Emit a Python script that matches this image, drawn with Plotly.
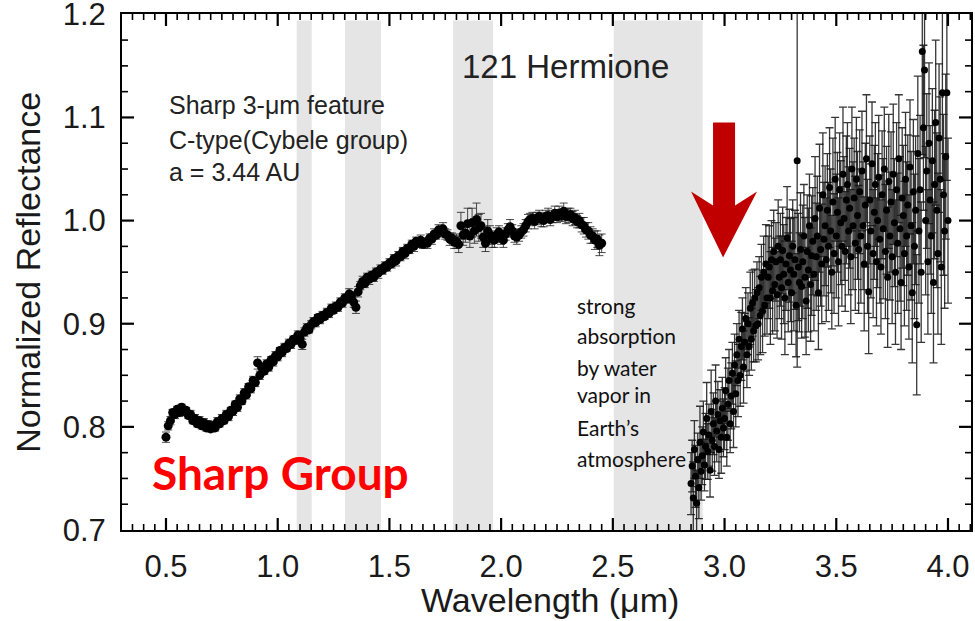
import plotly.graph_objects as go

# ---------------------------------------------------------------
# 121 Hermione reflectance spectrum (normalized)
# ---------------------------------------------------------------

# Visible / near-IR segment (0.50 - 2.45 um)
WAVE_VIS = [
    0.50, 0.51, 0.52, 0.53, 0.54, 0.55, 0.56, 0.57, 0.58, 0.59,
    0.60, 0.61, 0.62, 0.63, 0.64, 0.65, 0.66, 0.67, 0.68, 0.69,
    0.70, 0.71, 0.72, 0.73, 0.74, 0.75, 0.76, 0.77, 0.78, 0.79,
    0.80, 0.81, 0.82, 0.83, 0.84, 0.85, 0.86, 0.87, 0.88, 0.89,
    0.90, 0.91, 0.92, 0.93, 0.94, 0.95, 0.96, 0.97, 0.98, 0.99,
    1.00, 1.01, 1.02, 1.03, 1.04, 1.05, 1.06, 1.07, 1.08, 1.09,
    1.10, 1.11, 1.12, 1.13, 1.14, 1.15, 1.16, 1.17, 1.18, 1.19,
    1.20, 1.21, 1.22, 1.23, 1.24, 1.25, 1.26, 1.27, 1.28, 1.29,
    1.30, 1.31, 1.32, 1.33, 1.34, 1.35, 1.36, 1.37, 1.38, 1.39,
    1.40, 1.41, 1.42, 1.43, 1.44, 1.45, 1.46, 1.47, 1.48, 1.49,
    1.50, 1.51, 1.52, 1.53, 1.54, 1.55, 1.56, 1.57, 1.58, 1.59,
    1.60, 1.61, 1.62, 1.63, 1.64, 1.65, 1.66, 1.67, 1.68, 1.69,
    1.70, 1.71, 1.72, 1.73, 1.74, 1.75, 1.76, 1.77, 1.78, 1.79,
    1.80, 1.81, 1.82, 1.83, 1.84, 1.85, 1.86, 1.87, 1.88, 1.89,
    1.90, 1.91, 1.92, 1.93, 1.94, 1.95, 1.96, 1.97, 1.98, 1.99,
    2.00, 2.01, 2.02, 2.03, 2.04, 2.05, 2.06, 2.07, 2.08, 2.09,
    2.10, 2.11, 2.12, 2.13, 2.14, 2.15, 2.16, 2.17, 2.18, 2.19,
    2.20, 2.21, 2.22, 2.23, 2.24, 2.25, 2.26, 2.27, 2.28, 2.29,
    2.30, 2.31, 2.32, 2.33, 2.34, 2.35, 2.36, 2.37, 2.38, 2.39,
    2.40, 2.41, 2.42, 2.43, 2.44, 2.45,
]
REFL_VIS = [
    0.790, 0.801, 0.806, 0.814, 0.812, 0.817, 0.814, 0.819, 0.815, 0.816,
    0.811, 0.812, 0.806, 0.808, 0.803, 0.806, 0.801, 0.804, 0.799, 0.802,
    0.798, 0.801, 0.799, 0.805, 0.803, 0.808, 0.806, 0.812, 0.810, 0.816,
    0.815, 0.822, 0.819, 0.827, 0.825, 0.833, 0.831, 0.839, 0.837, 0.845,
    0.843, 0.862, 0.850, 0.857, 0.854, 0.861, 0.858, 0.865, 0.863, 0.869,
    0.868, 0.874, 0.872, 0.877, 0.876, 0.881, 0.880, 0.885, 0.884, 0.889,
    0.886, 0.880, 0.892, 0.896, 0.894, 0.899, 0.902, 0.901, 0.906, 0.904,
    0.908, 0.907, 0.911, 0.910, 0.915, 0.913, 0.917, 0.916, 0.921, 0.920,
    0.925, 0.924, 0.929, 0.927, 0.921, 0.916, 0.931, 0.937, 0.941, 0.939,
    0.945, 0.943, 0.947, 0.945, 0.950, 0.949, 0.953, 0.952, 0.956, 0.955,
    0.959, 0.958, 0.963, 0.961, 0.966, 0.965, 0.970, 0.968, 0.973, 0.972,
    0.977, 0.975, 0.980, 0.978, 0.981, 0.977, 0.979, 0.978, 0.983, 0.982,
    0.987, 0.986, 0.991, 0.989, 0.992, 0.987, 0.986, 0.982, 0.983, 0.979,
    0.980, 0.977, 0.995, 0.986, 0.988, 0.997, 0.985, 0.998, 0.990, 1.001,
    0.993, 0.995, 0.984, 0.978, 0.990, 0.986, 0.982, 0.981, 0.986, 0.989,
    0.983, 0.981, 0.987, 0.991, 0.994, 0.990, 0.985, 0.984, 0.986, 0.989,
    0.991, 0.995, 0.999, 1.001, 1.002, 0.999, 1.002, 1.004, 1.001, 1.000,
    1.004, 1.005, 1.001, 1.004, 1.007, 1.004, 1.007, 1.005, 1.009, 1.004,
    1.005, 1.006, 1.002, 1.003, 0.999, 1.000, 0.996, 0.995, 0.991, 0.990,
    0.986, 0.985, 0.981, 0.982, 0.976, 0.978,
]
ERR_VIS = [
    0.005, 0.004, 0.004, 0.003, 0.004, 0.003, 0.004, 0.003, 0.004, 0.003,
    0.003, 0.004, 0.003, 0.004, 0.003, 0.004, 0.003, 0.004, 0.003, 0.004,
    0.003, 0.004, 0.003, 0.004, 0.003, 0.004, 0.003, 0.004, 0.004, 0.003,
    0.004, 0.003, 0.004, 0.004, 0.003, 0.004, 0.004, 0.003, 0.004, 0.004,
    0.004, 0.006, 0.004, 0.004, 0.003, 0.004, 0.004, 0.003, 0.004, 0.004,
    0.004, 0.003, 0.004, 0.004, 0.003, 0.004, 0.004, 0.003, 0.004, 0.004,
    0.004, 0.005, 0.004, 0.004, 0.003, 0.004, 0.004, 0.004, 0.003, 0.004,
    0.004, 0.003, 0.004, 0.004, 0.004, 0.003, 0.004, 0.004, 0.004, 0.004,
    0.004, 0.004, 0.005, 0.004, 0.005, 0.006, 0.005, 0.004, 0.005, 0.004,
    0.004, 0.005, 0.004, 0.004, 0.004, 0.005, 0.004, 0.004, 0.004, 0.004,
    0.004, 0.004, 0.004, 0.005, 0.004, 0.004, 0.004, 0.005, 0.004, 0.004,
    0.004, 0.005, 0.004, 0.004, 0.005, 0.004, 0.004, 0.005, 0.004, 0.005,
    0.005, 0.004, 0.005, 0.005, 0.006, 0.005, 0.005, 0.006, 0.005, 0.006,
    0.007, 0.008, 0.013, 0.010, 0.009, 0.015, 0.011, 0.014, 0.012, 0.016,
    0.013, 0.012, 0.010, 0.008, 0.011, 0.009, 0.008, 0.007, 0.007, 0.006,
    0.006, 0.007, 0.006, 0.006, 0.007, 0.006, 0.006, 0.007, 0.006, 0.006,
    0.006, 0.006, 0.007, 0.006, 0.006, 0.007, 0.006, 0.006, 0.007, 0.006,
    0.006, 0.007, 0.006, 0.006, 0.007, 0.006, 0.007, 0.006, 0.008, 0.007,
    0.007, 0.006, 0.007, 0.007, 0.006, 0.007, 0.007, 0.008, 0.007, 0.008,
    0.008, 0.007, 0.009, 0.008, 0.010, 0.009,
]

# 3-um segment (2.85 - 4.00 um)
WAVE_3UM = [
    2.850, 2.855, 2.860, 2.865, 2.870, 2.875, 2.880, 2.885, 2.890, 2.895,
    2.900, 2.905, 2.910, 2.915, 2.920, 2.925, 2.930, 2.935, 2.940, 2.945,
    2.950, 2.955, 2.960, 2.965, 2.970, 2.975, 2.980, 2.985, 2.990, 2.995,
    3.000, 3.005, 3.010, 3.015, 3.020, 3.025, 3.030, 3.035, 3.040, 3.045,
    3.050, 3.055, 3.060, 3.065, 3.070, 3.075, 3.080, 3.085, 3.090, 3.095,
    3.100, 3.105, 3.110, 3.115, 3.120, 3.125, 3.130, 3.135, 3.140, 3.145,
    3.150, 3.155, 3.160, 3.165, 3.170, 3.175, 3.180, 3.185, 3.190, 3.195,
    3.200, 3.205, 3.210, 3.215, 3.220, 3.225, 3.230, 3.235, 3.240, 3.245,
    3.250, 3.255, 3.260, 3.265, 3.270, 3.275, 3.280, 3.285, 3.290, 3.295,
    3.300, 3.305, 3.310, 3.315, 3.320, 3.325, 3.330, 3.335, 3.340, 3.345,
    3.350, 3.355, 3.360, 3.365, 3.370, 3.375, 3.380, 3.385, 3.390, 3.395,
    3.400, 3.405, 3.410, 3.415, 3.420, 3.425, 3.430, 3.435, 3.440, 3.445,
    3.450, 3.455, 3.460, 3.465, 3.470, 3.475, 3.480, 3.485, 3.490, 3.495,
    3.500, 3.505, 3.510, 3.515, 3.520, 3.525, 3.530, 3.535, 3.540, 3.545,
    3.550, 3.555, 3.560, 3.565, 3.570, 3.575, 3.580, 3.585, 3.590, 3.595,
    3.600, 3.605, 3.610, 3.615, 3.620, 3.625, 3.630, 3.635, 3.640, 3.645,
    3.650, 3.655, 3.660, 3.665, 3.670, 3.675, 3.680, 3.685, 3.690, 3.695,
    3.700, 3.705, 3.710, 3.715, 3.720, 3.725, 3.730, 3.735, 3.740, 3.745,
    3.750, 3.755, 3.760, 3.765, 3.770, 3.775, 3.780, 3.785, 3.790, 3.795,
    3.800, 3.805, 3.810, 3.815, 3.820, 3.825, 3.830, 3.835, 3.840, 3.845,
    3.850, 3.855, 3.860, 3.865, 3.870, 3.875, 3.880, 3.885, 3.890, 3.895,
    3.900, 3.905, 3.910, 3.915, 3.920, 3.925, 3.930, 3.935, 3.940, 3.945,
    3.950, 3.955, 3.960, 3.965, 3.970, 3.975, 3.980, 3.985, 3.990, 3.995,
    4.000,
]
REFL_3UM = [
    0.745, 0.762, 0.731, 0.778, 0.752, 0.726, 0.768, 0.741, 0.785, 0.757,
    0.772, 0.795, 0.763, 0.781, 0.808, 0.776, 0.792, 0.758, 0.815, 0.787,
    0.803, 0.781, 0.825, 0.796, 0.812, 0.778, 0.806, 0.790, 0.818, 0.799,
    0.808, 0.835, 0.790, 0.822, 0.845, 0.803, 0.830, 0.852, 0.815, 0.860,
    0.832, 0.870, 0.845, 0.885, 0.850, 0.878, 0.895, 0.858, 0.882, 0.905,
    0.870, 0.900, 0.878, 0.915, 0.885, 0.920, 0.893, 0.925, 0.898, 0.930,
    0.900, 0.935, 0.908, 0.945, 0.912, 0.950, 0.918, 0.958, 0.925, 0.945,
    0.955, 0.925, 0.962, 0.932, 0.970, 0.938, 0.960, 0.928, 0.975, 0.945,
    0.962, 0.935, 0.971, 0.948, 0.925, 0.958, 0.983, 0.940, 0.966, 0.952,
    0.930, 0.975, 0.948, 0.962, 0.918, 1.058, 0.955, 0.940, 0.972, 0.936,
    0.960, 0.985, 0.945, 0.922, 0.970, 0.952, 0.995, 0.938, 0.966, 0.980,
    0.948, 1.002, 0.965, 0.985, 0.930, 1.012, 0.972, 0.958, 1.025, 0.982,
    0.995, 0.962, 1.010, 0.975, 1.032, 0.990, 0.950, 1.018, 0.968, 1.040,
    0.985, 1.008, 0.960, 1.030, 0.998, 0.975, 1.045, 1.002, 0.970, 1.020,
    1.035, 0.990, 1.012, 0.965, 1.050, 0.995, 1.022, 0.978, 1.040, 1.005,
    0.972, 1.028, 0.985, 1.048, 0.995, 0.958, 1.015, 1.060, 0.975, 0.931,
    1.020, 0.990, 1.055, 0.968, 1.008, 1.035, 0.960, 1.000, 1.042, 0.982,
    0.955, 1.025, 0.992, 1.050, 0.970, 1.010, 0.945, 1.038, 0.985, 1.018,
    0.965, 1.045, 0.998, 0.950, 1.030, 0.978, 1.060, 0.992, 0.940, 1.022,
    1.005, 0.968, 1.040, 0.985, 1.015, 0.955, 1.052, 0.995, 0.930, 1.028,
    0.975, 1.010, 0.899, 1.065, 0.990, 1.030, 0.950, 1.164, 1.090, 1.146,
    1.000, 1.048, 0.960, 1.075, 1.020, 0.985, 1.058, 0.940, 1.035, 1.095,
    1.010, 0.968, 1.080, 1.040, 0.955, 1.124, 1.025, 0.990, 1.062, 1.124,
    1.000,
]
ERR_3UM = [
    0.030, 0.025, 0.035, 0.028, 0.030, 0.032, 0.026, 0.030, 0.035, 0.028,
    0.028, 0.030, 0.025, 0.032, 0.035, 0.027, 0.030, 0.026, 0.040, 0.030,
    0.030, 0.028, 0.035, 0.030, 0.032, 0.028, 0.030, 0.035, 0.030, 0.028,
    0.030, 0.032, 0.028, 0.035, 0.030, 0.028, 0.032, 0.030, 0.035, 0.030,
    0.032, 0.030, 0.035, 0.028, 0.030, 0.033, 0.030, 0.035, 0.028, 0.030,
    0.032, 0.030, 0.028, 0.035, 0.030, 0.032, 0.030, 0.028, 0.035, 0.030,
    0.035, 0.030, 0.038, 0.032, 0.040, 0.035, 0.030, 0.038, 0.035, 0.040,
    0.040, 0.045, 0.038, 0.042, 0.040, 0.045, 0.038, 0.042, 0.045, 0.040,
    0.045, 0.050, 0.042, 0.048, 0.055, 0.045, 0.050, 0.048, 0.045, 0.050,
    0.050, 0.045, 0.055, 0.048, 0.050, 0.200, 0.052, 0.048, 0.055, 0.050,
    0.055, 0.050, 0.058, 0.052, 0.055, 0.060, 0.050, 0.055, 0.058, 0.052,
    0.055, 0.060, 0.052, 0.058, 0.055, 0.062, 0.055, 0.058, 0.060, 0.055,
    0.058, 0.060, 0.055, 0.062, 0.058, 0.060, 0.055, 0.062, 0.058, 0.060,
    0.060, 0.058, 0.062, 0.055, 0.060, 0.058, 0.065, 0.060, 0.058, 0.062,
    0.060, 0.062, 0.058, 0.065, 0.060, 0.062, 0.058, 0.065, 0.060, 0.062,
    0.062, 0.060, 0.065, 0.058, 0.062, 0.065, 0.060, 0.062, 0.065, 0.060,
    0.062, 0.065, 0.060, 0.062, 0.065, 0.060, 0.062, 0.065, 0.060, 0.062,
    0.065, 0.062, 0.068, 0.060, 0.065, 0.062, 0.068, 0.065, 0.062, 0.068,
    0.065, 0.068, 0.062, 0.070, 0.065, 0.068, 0.062, 0.070, 0.065, 0.068,
    0.068, 0.070, 0.065, 0.072, 0.068, 0.070, 0.065, 0.072, 0.068, 0.070,
    0.070, 0.072, 0.068, 0.075, 0.070, 0.072, 0.068, 0.100, 0.080, 0.085,
    0.072, 0.075, 0.070, 0.078, 0.072, 0.075, 0.070, 0.078, 0.072, 0.080,
    0.075, 0.078, 0.072, 0.080, 0.075, 0.085, 0.078, 0.075, 0.080, 0.085,
    0.080,
]

assert len(WAVE_VIS) == len(REFL_VIS) == len(ERR_VIS)
assert len(WAVE_3UM) == len(REFL_3UM) == len(ERR_3UM)

# Telluric windows shaded in grey (um)
TELLURIC_BANDS = [(1.085, 1.152), (1.301, 1.462), (1.785, 1.964), (2.504, 2.902)]

# Axis ticks: first major tick, major spacing, minor spacing
X_TICK_START, X_TICK_STEP, X_MINOR_STEP = 0.5, 0.5, 0.05
Y_TICK_START, Y_TICK_STEP, Y_MINOR_STEP = 0.7, 0.1, 0.025

X_RANGE = [0.3031, 4.103]
Y_RANGE = [0.7, 1.2003]

HELV = "Liberation Sans, Arial, Helvetica, sans-serif"
CALIB = "Lato, Carlito, Calibri, sans-serif"

WIDTH, HEIGHT = 975, 621
MARGIN = dict(l=122, r=4, t=14, b=91)
PLOT_W = WIDTH - MARGIN["l"] - MARGIN["r"]
PLOT_H = HEIGHT - MARGIN["t"] - MARGIN["b"]
MAJOR_LEN, MINOR_LEN = 12, 6  # px, ticks pointing into the frame

# pixel -> data scale factors, used to size the frame ticks
X_PER_PX = (X_RANGE[1] - X_RANGE[0]) / PLOT_W
Y_PER_PX = (Y_RANGE[1] - Y_RANGE[0]) / PLOT_H

fig = go.Figure()

# grey telluric bands underneath the spectrum
for lo, hi in TELLURIC_BANDS:
    fig.add_shape(type="rect", xref="x", yref="y", x0=lo, x1=hi, y0=0.7, y1=1.194,
                  fillcolor="#e5e5e5", line=dict(width=0), layer="below")

fig.add_trace(go.Scatter(
    x=WAVE_VIS, y=REFL_VIS, mode="markers", name="0.5-2.5 um",
    marker=dict(color="black", size=9),
    error_y=dict(type="data", array=ERR_VIS, visible=True,
                 color="rgba(30,30,30,0.8)", thickness=1, width=4),
))
fig.add_trace(go.Scatter(
    x=WAVE_3UM, y=REFL_3UM, mode="markers", name="3 um",
    marker=dict(color="black", size=7),
    error_y=dict(type="data", array=ERR_3UM, visible=True,
                 color="rgba(20,20,20,0.85)", thickness=1.3, width=4),
))

# inward tick marks on all four sides of the frame, drawn as line segments
tick_paths = {"major": ([], []), "minor": ([], [])}


def x_tick(v, kind):
    xs, ys = tick_paths[kind]
    h = (MAJOR_LEN if kind == "major" else MINOR_LEN) * Y_PER_PX
    for y0, y1 in ((Y_RANGE[0], Y_RANGE[0] + h), (Y_RANGE[1], Y_RANGE[1] - h)):
        xs += [v, v, None]
        ys += [y0, y1, None]


def y_tick(v, kind):
    xs, ys = tick_paths[kind]
    w = (MAJOR_LEN if kind == "major" else MINOR_LEN) * X_PER_PX
    for x0, x1 in ((X_RANGE[0], X_RANGE[0] + w), (X_RANGE[1], X_RANGE[1] - w)):
        xs += [x0, x1, None]
        ys += [v, v, None]


ratio_x = round(X_TICK_STEP / X_MINOR_STEP)
i = -int((X_TICK_START - X_RANGE[0]) / X_MINOR_STEP)
while X_TICK_START + i * X_MINOR_STEP <= X_RANGE[1]:
    v = round(X_TICK_START + i * X_MINOR_STEP, 4)
    if v >= X_RANGE[0]:
        x_tick(v, "major" if i % ratio_x == 0 else "minor")
    i += 1

ratio_y = round(Y_TICK_STEP / Y_MINOR_STEP)
j = 1
while Y_TICK_START + j * Y_MINOR_STEP < Y_RANGE[1] - 0.005:
    v = round(Y_TICK_START + j * Y_MINOR_STEP, 4)
    y_tick(v, "major" if j % ratio_y == 0 else "minor")
    j += 1

for kind, width in (("major", 2.2), ("minor", 1.6)):
    xs, ys = tick_paths[kind]
    fig.add_trace(go.Scatter(x=xs, y=ys, mode="lines", hoverinfo="skip",
                             line=dict(color="black", width=width), connectgaps=False))

# block arrow pointing down at the 3-um band
fig.add_shape(
    type="path", xref="x", yref="y", layer="above",
    path="M 2.9485 1.0952 L 3.047 1.0952 L 3.047 1.0147 L 3.1455 1.0283 "
         "L 2.9933 0.9643 L 2.850 1.0283 L 2.9485 1.0147 Z",
    fillcolor="#c00000", line=dict(width=0),
)

fig.add_annotation(x=2.286, y=1.149, xref="x", yref="y", text="121 Hermione",
                   showarrow=False, font=dict(family=HELV, size=33, color="#222"))

for txt, yy in [("Sharp 3-\u03bcm feature", 1.1117),
                ("C-type(Cybele group)", 1.0778),
                ("a = 3.44 AU", 1.0468)]:
    fig.add_annotation(x=0.5045, y=yy, xref="x", yref="y", text=txt, showarrow=False,
                       xanchor="left", font=dict(family=HELV, size=25, color="#222"))

fig.add_annotation(x=0.428, y=0.7558, xref="x", yref="y", text="<b>Sharp Group</b>",
                   showarrow=False, xanchor="left",
                   font=dict(family=CALIB, size=46, color="#ff0000"))

for txt, yy in [("strong", 0.9178), ("absorption", 0.8887),
                ("by water<br>vapor in", 0.8440),
                ("Earth\u2019s", 0.7994), ("atmosphere", 0.7693)]:
    fig.add_annotation(x=2.331, y=yy, xref="x", yref="y", text=txt, showarrow=False,
                       xanchor="left", align="left",
                       font=dict(family=CALIB, size=21, color="#111"))

# axis titles as free annotations, placed in paper coordinates
fig.add_annotation(x=0.504, y=-0.1357, xref="paper", yref="paper",
                   xanchor="center", yanchor="middle",
                   text="Wavelength (\u03bcm)", showarrow=False,
                   font=dict(family=HELV, size=34, color="#1a1a1a"))
fig.add_annotation(x=-0.111, y=0.5, xref="paper", yref="paper",
                   xanchor="center", yanchor="middle",
                   text="Normalized Reflectance", textangle=-90, showarrow=False,
                   font=dict(family=HELV, size=34, color="#1a1a1a"))

axis_common = dict(
    tickmode="linear", automargin=False,
    showline=True, linecolor="black", linewidth=2, mirror=True,
    ticks="", showgrid=False, zeroline=False, tickformat=".1f",
    ticklabeloverflow="allow",
    tickfont=dict(family=HELV, size=31, color="#1a1a1a"),
)

fig.update_xaxes(
    range=X_RANGE, tick0=X_TICK_START, dtick=X_TICK_STEP,
    ticklabelstandoff=8,
    **axis_common,
)
fig.update_yaxes(
    range=Y_RANGE, tick0=Y_TICK_START, dtick=Y_TICK_STEP,
    ticklabelstandoff=8,
    **axis_common,
)

fig.update_layout(
    width=WIDTH, height=HEIGHT,
    margin=MARGIN,
    plot_bgcolor="white", paper_bgcolor="white",
    showlegend=False,
)

fig.write_html("out.html")
